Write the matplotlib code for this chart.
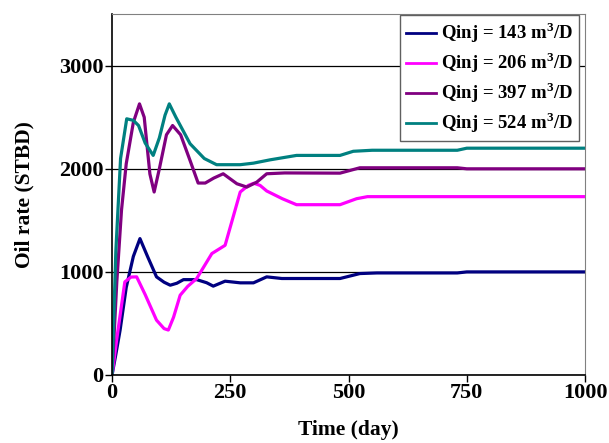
import matplotlib.pyplot as plt

# days and oil rate (STBD) for each injection rate
day_143 = [0, 8, 17, 30, 45, 59, 75, 94, 110, 123, 137, 151, 179, 200, 214, 239, 271, 299, 327, 359, 420, 482, 524, 560, 730, 750, 1000]
rate_143 = [0, 200, 435, 850, 1150, 1323, 1150, 952, 900, 871, 890, 925, 925, 895, 862, 910, 894, 894, 952, 936, 936, 936, 984, 990, 990, 1000, 1000]

day_206 = [0, 10, 27, 40, 52, 70, 94, 110, 119, 130, 144, 160, 179, 211, 239, 271, 288, 300, 313, 327, 360, 390, 482, 517, 540, 1000]
rate_206 = [0, 350, 903, 950, 952, 780, 532, 450, 436, 560, 774, 860, 936, 1178, 1258, 1775, 1839, 1860, 1839, 1785, 1710, 1652, 1652, 1710, 1730, 1730]

day_397 = [0, 10, 20, 30, 45, 58, 68, 80, 89, 100, 115, 128, 145, 165, 182, 197, 215, 235, 264, 285, 306, 327, 365, 482, 524, 730, 750, 1000]
rate_397 = [0, 900, 1600, 2050, 2450, 2630, 2500, 1950, 1775, 2000, 2330, 2420, 2330, 2080, 1862, 1862, 1910, 1952, 1855, 1823, 1871, 1952, 1960, 1958, 2010, 2010, 2000, 2000]

day_524 = [0, 8, 18, 31, 45, 56, 70, 87, 100, 112, 121, 135, 165, 195, 221, 271, 299, 334, 390, 482, 510, 550, 730, 750, 1000]
rate_524 = [0, 1200, 2100, 2485, 2470, 2420, 2250, 2130, 2300, 2520, 2630, 2500, 2243, 2100, 2040, 2040, 2055, 2087, 2130, 2130, 2170, 2180, 2180, 2200, 2200]

labels = ['Qinj = 143 m$^3$/D', 'Qinj = 206 m$^3$/D', 'Qinj = 397 m$^3$/D', 'Qinj = 524 m$^3$/D']
colors = ['#000080', '#FF00FF', '#800080', '#008080']

plt.rcParams['font.family'] = 'Liberation Serif'
plt.rcParams['font.weight'] = 'bold'
plt.rcParams['mathtext.fontset'] = 'custom'
plt.rcParams['mathtext.rm'] = 'Liberation Serif:bold'

fig = plt.figure(figsize=(6.09, 4.43), dpi=100)
ax = fig.add_axes([0.184, 0.1535, 0.7766, 0.8145])

for d, r, lab, c in zip([day_143, day_206, day_397, day_524],
                        [rate_143, rate_206, rate_397, rate_524], labels, colors):
    ax.plot(d, r, color=c, lw=2.3, label=lab)

ax.set_xlim(0, 1000)
ax.set_ylim(0, 3500)
ax.set_xticks([0, 250, 500, 750, 1000])
ax.set_yticks([0, 1000, 2000, 3000])
ax.yaxis.grid(True, color='black', lw=0.9)
ax.set_axisbelow(True)
ax.tick_params(labelsize=16, length=5, width=1, direction='out', pad=1)
for lab in ax.get_xticklabels() + ax.get_yticklabels():
    lab.set_fontweight('bold')
ax.spines['top'].set_color('#808080')
ax.spines['right'].set_color('#808080')
for s in ['left', 'bottom']:
    ax.spines[s].set_linewidth(1.2)

ax.set_xlabel('Time (day)', fontsize=15.5, fontweight='bold', labelpad=12)
ax.set_ylabel('Oil rate (STBD)', fontsize=15.5, fontweight='bold', labelpad=18)

leg = ax.legend(loc='upper right', bbox_to_anchor=(0.987, 0.998), fontsize=13.5,
                frameon=True, fancybox=False, framealpha=1, edgecolor='#606060',
                handlelength=1.6, handletextpad=0.27, labelspacing=0.28,
                borderpad=0.3, borderaxespad=0)
leg.get_frame().set_linewidth(1.0)
for line in leg.get_lines():
    line.set_linewidth(2)

fig.savefig('out.png', dpi=100)
